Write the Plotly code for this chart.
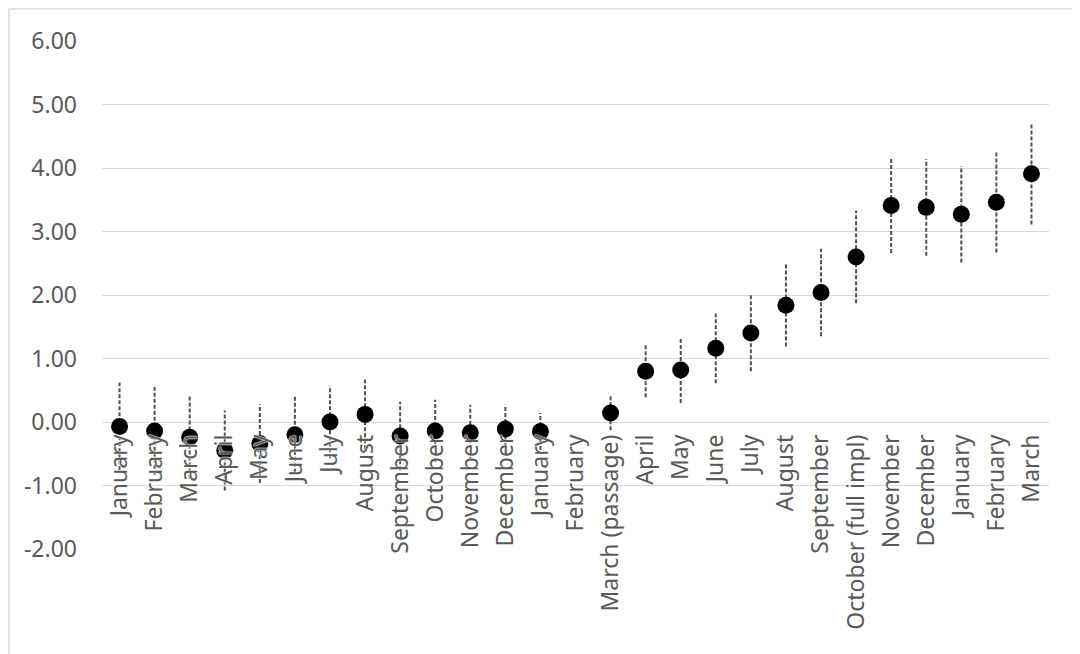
import plotly.graph_objects as go

categories = ["January", "February", "March", "April", "May", "June", "July",
              "August", "September", "October", "November", "December",
              "January", "February", "March (passage)", "April", "May", "June",
              "July", "August", "September", "October (full impl)", "November",
              "December", "January", "February", "March"]
values = [-0.07, -0.14, -0.24, -0.45, -0.34, -0.20, 0.00, 0.12, -0.22, -0.14,
          -0.17, -0.11, -0.15, None, 0.14, 0.80, 0.82, 1.16, 1.40, 1.84, 2.04,
          2.60, 3.41, 3.38, 3.27, 3.46, 3.91]
errors = [0.69, 0.69, 0.65, 0.63, 0.62, 0.60, 0.57, 0.55, 0.54, 0.49, 0.44,
          0.38, 0.29, None, 0.27, 0.41, 0.52, 0.55, 0.60, 0.65, 0.69, 0.73,
          0.75, 0.76, 0.76, 0.79, 0.80]
y_ticks = [-2, -1, 0, 1, 2, 3, 4, 5, 6]
y_tick_labels = ["-2.00", "-1.00", "0.00", "1.00", "2.00", "3.00", "4.00",
                 "5.00", "6.00"]

xpos = list(range(len(categories)))

# whisker segments (dashed)
wx, wy = [], []
for i, v, e in zip(xpos, values, errors):
    if v is None:
        continue
    wx += [i, i, None]
    wy += [v - e, v + e, None]

GRID = "#d9d9d9"
TXT = "#595959"
FONT = "Noto Sans"
HALO = "white 0px 0px 1px, white 0px 0px 1px, white 0px 0px 2px"

fig = go.Figure()
fig.add_trace(go.Scatter(
    x=wx, y=wy, mode="lines",
    line=dict(color="#505050", width=2, dash="4px,2px"),
    hoverinfo="skip", showlegend=False,
))
fig.add_trace(go.Scatter(
    x=xpos, y=values, mode="markers",
    marker=dict(color="#000000", size=17, line=dict(width=0)),
    showlegend=False,
))

# page body has an 8px margin, so the plot is placed 8px up/left
L, T = 94, 33
W, H = 1080, 654
pw, ph = 947, 508
R = W - L - pw
B = H - T - ph

fig.update_layout(
    width=W, height=H,
    margin=dict(l=L, r=R, t=T, b=B, pad=0),
    paper_bgcolor="white", plot_bgcolor="white",
    font=dict(family=FONT, color=TXT, size=23),
    showlegend=False,
    xaxis=dict(
        range=[-0.5, len(categories) - 0.5],
        tickmode="array", tickvals=xpos, ticktext=categories,
        tickangle=-90, showgrid=False, zeroline=False, showline=False,
        ticks="", anchor="free", position=(0 - (-2)) / 8,
        ticklabelstandoff=7,
        tickfont=dict(family=FONT, size=23, color=TXT, shadow=HALO),
    ),
    yaxis=dict(
        range=[-2, 6], tickmode="array", tickvals=y_ticks,
        ticktext=y_tick_labels,
        showgrid=True, gridcolor=GRID, gridwidth=1.4,
        zeroline=False, showline=False, ticks="",
        ticklabelstandoff=24,
        tickfont=dict(family=FONT, size=23, color=TXT),
    ),
    shapes=[dict(
        type="rect", xref="paper", yref="paper",
        x0=(1 - L) / pw, x1=(W + 20 - L) / pw,
        y0=(-20 - B) / ph, y1=(H - 1 - B) / ph,
        line=dict(color=GRID, width=1.5), fillcolor="rgba(0,0,0,0)",
        layer="below",
    )],
)

fig.write_html("out.html")
